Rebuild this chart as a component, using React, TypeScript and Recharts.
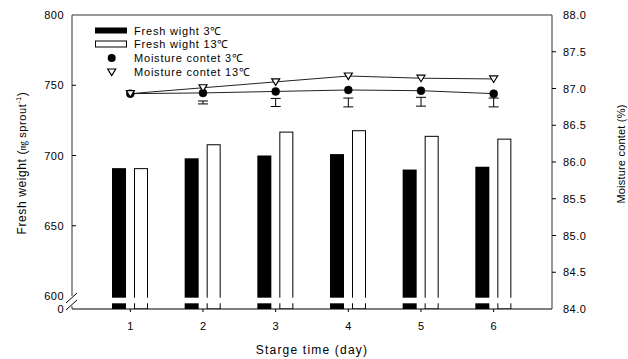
import React from 'react';
import { ComposedChart, Bar, Line, XAxis, YAxis, ErrorBar, ReferenceLine, Customized } from 'recharts';

// ---- data ----
const days = ['1', '2', '3', '4', '5', '6'];
const fresh3 = [691, 698, 700, 701, 690, 692];
const fresh13 = [691, 708, 717, 718, 714, 712];
const moist3 = [86.93, 86.94, 86.96, 86.98, 86.97, 86.93];
const moist13 = [86.93, 87.01, 87.09, 87.17, 87.14, 87.13];
const sdMid = [null, 86.81, 86.81, 86.81, 86.82, 86.81];
const sdErr = [null, 0.02, 0.055, 0.06, 0.06, 0.06];
const leftTicks = [0, 600, 650, 700, 750, 800];
const rightTicks = [84.0, 84.5, 85.0, 85.5, 86.0, 86.5, 87.0, 87.5, 88.0];
const legendLabels = ['Fresh wight 3\u2103', 'Fresh wight 13\u2103', 'Moisture contet 3\u2103', 'Moisture contet 13\u2103'];

// axis break: 0..600 compressed into a short segment
const BREAK_AT = 600;
const BREAK_ZERO = 590.75;
const toAxis = (v: number) => (v >= BREAK_AT ? v : BREAK_ZERO + (v * (BREAK_AT - BREAK_ZERO)) / BREAK_AT);
const fromAxis = (v: number) => (v >= BREAK_AT ? v : ((v - BREAK_ZERO) * BREAK_AT) / (BREAK_AT - BREAK_ZERO));

const data = days.map((d, i) => ({
  day: d,
  f3: toAxis(fresh3[i]),
  f13: toAxis(fresh13[i]),
  m3: moist3[i],
  m13: moist13[i],
  sd: sdMid[i],
  sdErr: sdErr[i],
}));

const FONT = '"Liberation Sans", Arial, Helvetica, sans-serif';
const W = 628;
const H = 359;
const AX_L = 72;
const AX_R = 552;
const TOP = 15;
const AX_B = 309;

const BlackBar = (p: any) => {
  const { x, y, width, height } = p;
  const b = y + height;
  return (
    <g>
      <rect x={x} y={y} width={width} height={height} fill="#000" />
      <rect x={x - 1} y={b - 11.3} width={width + 2} height={5.6} fill="#fff" />
    </g>
  );
};

const WhiteBar = (p: any) => {
  const { x, y, width, height } = p;
  const b = y + height;
  return (
    <g>
      <rect x={x + 0.5} y={y + 0.5} width={width - 1} height={height - 0.5} fill="#fff" stroke="#000" strokeWidth={1} />
      <rect x={x - 1} y={b - 11.3} width={width + 2} height={5.6} fill="#fff" />
    </g>
  );
};

const CircleDot = (p: any) => {
  const { cx, cy, index } = p;
  if (cx == null || cy == null) return <g key={`c${index}`} />;
  return <circle key={`c${index}`} cx={cx} cy={cy} r={4} fill="#000" stroke="#000" strokeWidth={0.5} />;
};

const TriDot = (p: any) => {
  const { cx, cy, index } = p;
  if (cx == null || cy == null) return <g key={`t${index}`} />;
  const s = 4;
  return (
    <path
      key={`t${index}`}
      d={`M${cx - s},${cy - 3} L${cx + s},${cy - 3} L${cx},${cy + 3.5} Z`}
      fill="#fff"
      stroke="#000"
      strokeWidth={1.2}
    />
  );
};

const LeftTick = (p: any) => {
  const { y, payload } = p;
  const val = Math.round(fromAxis(payload.value));
  const txt = (
    <text x={AX_L - 8} y={y} textAnchor="end" dominantBaseline="central" fontSize={11} fill="#000" fontFamily={FONT} letterSpacing={0.5}>
      {val}
    </text>
  );
  if (val === 0) {
    return (
      <g>
        <rect x={AX_L - 2} y={y - 13} width={4} height={10} fill="#fff" />
        <line x1={AX_L - 6} y1={y - 6} x2={AX_L + 5} y2={y - 16} stroke="#000" strokeWidth={1} />
        <line x1={AX_L - 6} y1={y + 1} x2={AX_L + 5} y2={y - 9} stroke="#000" strokeWidth={1} />
        {txt}
      </g>
    );
  }
  return (
    <g>
      {val !== 800 && val !== 600 && <line x1={AX_L} y1={y} x2={AX_L + 4} y2={y} stroke="#000" strokeWidth={1} />}
      {txt}
    </g>
  );
};

const RightTick = (p: any) => {
  const { y, payload } = p;
  const v = payload.value;
  const end = v === rightTicks[0] || v === rightTicks[rightTicks.length - 1];
  return (
    <g>
      {!end && <line x1={AX_R} y1={y} x2={AX_R + 4} y2={y} stroke="#000" strokeWidth={1} />}
      <text x={AX_R + 11} y={y} textAnchor="start" dominantBaseline="central" fontSize={11} fill="#000" fontFamily={FONT} letterSpacing={0.5}>
        {v.toFixed(1)}
      </text>
    </g>
  );
};

const Decor = () => {
  const lx = 95;
  const tx = 134;
  const rows = [30.5, 44, 58, 72];
  const ts = { fontSize: 11, fontFamily: FONT, fill: '#000', letterSpacing: 0.8 } as any;
  return (
    <g>
      {/* legend */}
      <rect x={lx} y={rows[0] - 3} width={32} height={6} fill="#000" />
      <rect x={lx + 0.5} y={rows[1] - 3} width={31} height={6} fill="#fff" stroke="#000" strokeWidth={1} />
      <circle cx={111.7} cy={rows[2]} r={4} fill="#000" />
      <path d={`M${111.7 - 4},${rows[3] - 3} L${111.7 + 4},${rows[3] - 3} L${111.7},${rows[3] + 3.5} Z`} fill="#fff" stroke="#000" strokeWidth={1.2} />
      {legendLabels.map((t, i) => (
        <text key={t} x={tx} y={rows[i]} dominantBaseline="central" {...ts}>
          {t}
        </text>
      ))}
      {/* axis titles */}
      <text x={312} y={350} textAnchor="middle" dominantBaseline="central" fontSize={12} fontFamily={FONT} fill="#000" letterSpacing={1.2}>
        Starge time (day)
      </text>
      <text
        x={22}
        y={163}
        textAnchor="middle"
        dominantBaseline="central"
        transform="rotate(-90, 22, 163)"
        fontSize={12}
        fontFamily={FONT}
        fill="#000"
        letterSpacing={0.6}
      >
        <tspan>Fresh weight (</tspan>
        <tspan fontSize={9} fontFamily={'"Noto Sans CJK KR", ' + FONT}>{'\u338E'} </tspan>
        <tspan fontSize={11}>sprout</tspan>
        <tspan fontSize={7} dy={-4}>-1</tspan>
        <tspan dy={4}>)</tspan>
      </text>
      <text
        x={621}
        y={154}
        textAnchor="middle"
        dominantBaseline="central"
        transform="rotate(-90, 621, 154)"
        fontSize={11}
        fontFamily={FONT}
        fill="#000"
        letterSpacing={0.2}
      >
        Moisture contet (%)
      </text>
    </g>
  );
};

export default function App() {
  return (
    <div style={{ position: 'absolute', left: 0, top: 0, width: W, height: H, background: '#fff' }}>
      <ComposedChart
        width={W}
        height={H}
        data={data}
        margin={{ top: TOP, right: 0, bottom: 0, left: 0 }}
        barSize={14}
        barGap={8}
      >
        <XAxis
          dataKey="day"
          height={H - AX_B}
          padding={{ left: 22, right: 22 }}
          tickSize={3}
          tickMargin={10}
          axisLine={{ stroke: '#000', strokeWidth: 1 }}
          tickLine={{ stroke: '#000', strokeWidth: 1 }}
          tick={{ fill: '#000', fontSize: 11, fontFamily: FONT }}
        />
        <YAxis
          yAxisId="left"
          width={AX_L}
          domain={[BREAK_ZERO, 800]}
          ticks={leftTicks.map(toAxis)}
          allowDataOverflow
          axisLine={{ stroke: '#333', strokeWidth: 1 }}
          tickLine={false}
          tick={<LeftTick />}
          interval={0}
        />
        <YAxis
          yAxisId="right"
          orientation="right"
          width={W - AX_R}
          domain={[84, 88]}
          ticks={rightTicks}
          axisLine={{ stroke: '#333', strokeWidth: 1 }}
          tickLine={false}
          tick={<RightTick />}
          interval={0}
        />
        <ReferenceLine yAxisId="left" y={800} stroke="#333" strokeWidth={1} />
        <Bar yAxisId="left" dataKey="f3" fill="#000" shape={<BlackBar />} isAnimationActive={false} />
        <Bar yAxisId="left" dataKey="f13" fill="#fff" shape={<WhiteBar />} isAnimationActive={false} />
        <Line
          yAxisId="right"
          dataKey="sd"
          stroke="none"
          dot={false}
          activeDot={false}
          isAnimationActive={false}
        >
          <ErrorBar dataKey="sdErr" width={5} stroke="#000" strokeWidth={1} direction="y" />
        </Line>
        <Line yAxisId="right" dataKey="m3" stroke="#222" strokeWidth={1} dot={<CircleDot />} activeDot={false} isAnimationActive={false} />
        <Line yAxisId="right" dataKey="m13" stroke="#222" strokeWidth={1} dot={<TriDot />} activeDot={false} isAnimationActive={false} />
        <Customized component={<Decor />} />
      </ComposedChart>
    </div>
  );
}
